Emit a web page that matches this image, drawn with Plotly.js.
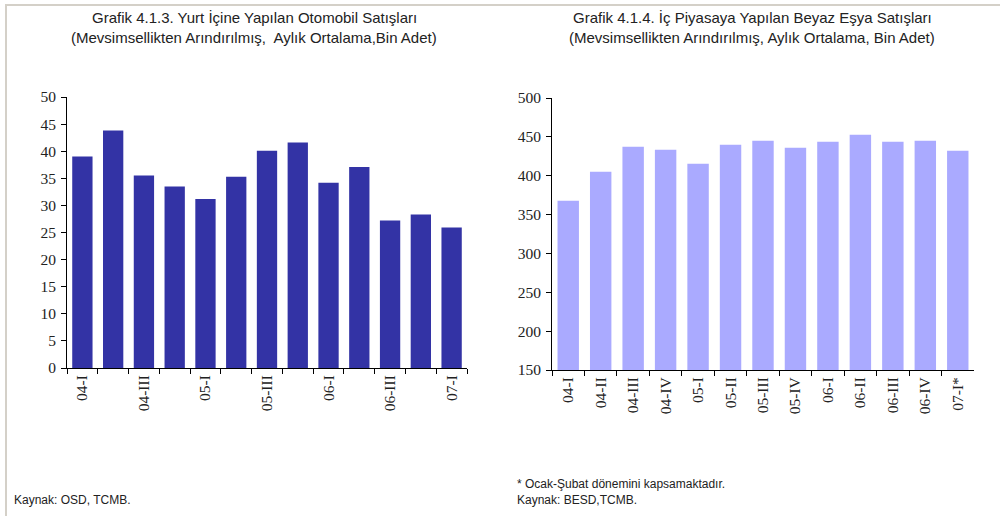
<!DOCTYPE html>
<html>
<head>
<meta charset="utf-8">
<script src="https://cdn.plot.ly/plotly-3.0.1.min.js"></script>
<style>
html,body{margin:0;padding:0;background:#fff;}
#chart{width:1000px;height:516px;position:relative;}
#bt{position:absolute;left:5px;top:4px;width:995px;height:2px;background:#d4d0c8;z-index:5;}
#bl{position:absolute;left:5px;top:4px;width:2px;height:512px;background:#d4d0c8;z-index:5;}
</style>
</head>
<body>
<div id="bt"></div><div id="bl"></div>
<div id="chart"></div>
<script>
// Categories
const categories = ["04-I","04-II","04-III","04-IV","05-I","05-II","05-III","05-IV","06-I","06-II","06-III","06-IV","07-I"];
const carLabels = ["04-I","","04-III","","05-I","","05-III","","06-I","","06-III","","07-I"];
const applianceLabels = ["04-I","04-II","04-III","04-IV","05-I","05-II","05-III","05-IV","06-I","06-II","06-III","06-IV","07-I*"];
// Values (thousand units, seasonally adjusted monthly average)
const carSales = [39.0, 43.8, 35.5, 33.5, 31.2, 35.3, 40.1, 41.6, 34.2, 37.1, 27.2, 28.3, 25.9];
const applianceSales = [367.7, 405.1, 437.3, 433.4, 415.4, 439.9, 445.0, 436.0, 443.7, 452.8, 443.7, 445.0, 432.1];

const W = 1000, H = 516;
const px = v => v / W;
const py = v => 1 - v / H;

const tickFont = {family: "Liberation Serif, 'Times New Roman', serif", size: 15.5, color: "#222"};
const narrow = "'Liberation Sans Narrow', 'Arial Narrow', 'Liberation Sans', Arial, sans-serif";

const traces = [
  {type: "bar", x: categories, y: carSales, xaxis: "x", yaxis: "y",
   marker: {color: "#3333a5"}, hoverinfo: "x+y"},
  {type: "bar", x: categories, y: applianceSales, xaxis: "x2", yaxis: "y2",
   marker: {color: "#aaaaff"}, hoverinfo: "x+y"}
];

const xCommon = {
  type: "category", showline: true, linecolor: "#000", linewidth: 1,
  ticks: "outside", ticklen: 5, tickcolor: "#000", tickwidth: 1,
  tickson: "boundaries", tickangle: -90, tickfont: tickFont,
  showgrid: false, zeroline: false, fixedrange: true
};
const yCommon = {
  showline: true, linecolor: "#000", linewidth: 1,
  ticks: "outside", ticklen: 5, tickcolor: "#000", tickwidth: 1,
  ticklabelstandoff: 2,
  tickfont: tickFont, showgrid: false, zeroline: false, fixedrange: true
};

const layout = {
  width: W, height: H,
  margin: {l: 0, r: 0, t: 0, b: 0},
  paper_bgcolor: "rgba(0,0,0,0)", plot_bgcolor: "rgba(0,0,0,0)",
  showlegend: false, bargap: 0.34,
  xaxis: Object.assign({}, xCommon, {domain: [px(67), px(467)], anchor: "y",
    tickvals: categories, ticktext: carLabels}),
  yaxis: Object.assign({}, yCommon, {domain: [py(368), py(97)], anchor: "x",
    range: [0, 50], dtick: 5, tick0: 0}),
  xaxis2: Object.assign({}, xCommon, {domain: [px(552), px(974)], anchor: "y2",
    tickvals: categories, ticktext: applianceLabels}),
  yaxis2: Object.assign({}, yCommon, {domain: [py(370), py(98)], anchor: "x2",
    range: [150, 500], dtick: 50, tick0: 150}),
  annotations: [
    {text: "Grafik 4.1.3. Yurt İçine Yapılan Otomobil Satışları", x: px(254), y: py(17)},
    {text: "(Mevsimsellikten Arındırılmış,\u00a0 Aylık Ortalama,Bin Adet)", x: px(254), y: py(37)},
    {text: "Grafik 4.1.4. İç Piyasaya Yapılan Beyaz Eşya Satışları", x: px(752), y: py(17)},
    {text: "(Mevsimsellikten Arındırılmış, Aylık Ortalama, Bin Adet)", x: px(752), y: py(37)},
    {text: "Kaynak: OSD, TCMB.", x: px(12), y: py(500), xanchor: "left", size: 12},
    {text: "* Ocak-Şubat dönemini kapsamaktadır.", x: px(515), y: py(484), xanchor: "left", size: 12},
    {text: "Kaynak: BESD,TCMB.", x: px(515), y: py(500), xanchor: "left", size: 12}
  ].map(a => ({
    text: a.text, x: a.x, y: a.y, xref: "paper", yref: "paper",
    xanchor: a.xanchor || "center", yanchor: "middle", showarrow: false,
    font: {family: narrow, size: a.size || 15, color: "#222"}
  }))
};

Plotly.newPlot("chart", traces, layout, {displayModeBar: false, staticPlot: true});
</script>
</body>
</html>
